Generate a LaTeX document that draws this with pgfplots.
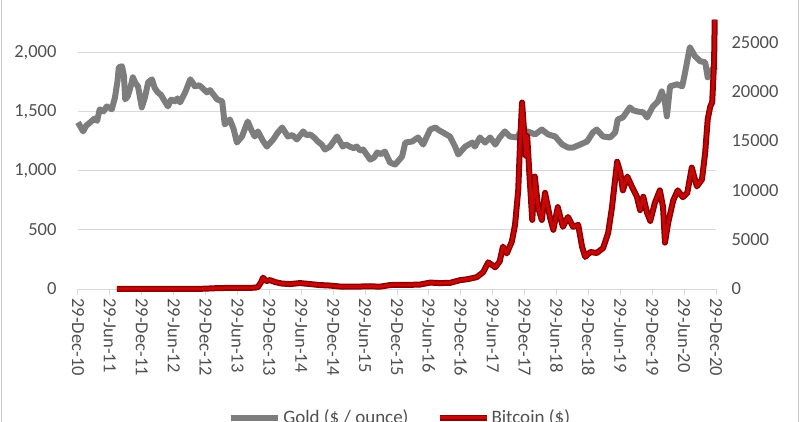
\documentclass[border=0pt]{standalone}
\usepackage{pgfplots}
\pgfplotsset{compat=1.18}
\usepackage{pgfplotstable}
\usepackage{fontspec}
\setmainfont{Carlito}
\definecolor{goldgray}{RGB}{125,125,125}
\definecolor{btcred}{RGB}{200,8,8}
\definecolor{btcdark}{RGB}{140,0,0}
\definecolor{gridgray}{RGB}{217,217,217}
\definecolor{labelgray}{RGB}{80,80,80}
\definecolor{framegray}{RGB}{200,200,200}

\pgfplotstableread{
t v
0.00 1407
0.04 1370
0.08 1331
0.13 1380
0.19 1407
0.26 1440
0.30 1420
0.34 1517
0.40 1500
0.45 1542
0.50 1530
0.53 1517
0.58 1619
0.62 1760
0.64 1873
0.69 1881
0.72 1800
0.74 1602
0.78 1627
0.82 1700
0.86 1788
0.90 1740
0.94 1712
1.00 1534
1.05 1620
1.10 1746
1.16 1771
1.20 1700
1.25 1661
1.30 1640
1.36 1585
1.41 1542
1.46 1600
1.52 1585
1.56 1610
1.60 1576
1.68 1661
1.76 1771
1.80 1740
1.83 1712
1.90 1720
1.94 1703
2.02 1661
2.07 1680
2.12 1644
2.18 1602
2.26 1585
2.30 1390
2.38 1432
2.44 1350
2.49 1237
2.57 1288
2.66 1415
2.72 1340
2.77 1288
2.82 1331
2.90 1250
2.96 1203
3.06 1263
3.13 1320
3.20 1364
3.29 1288
3.36 1300
3.43 1263
3.53 1331
3.58 1300
3.64 1305
3.70 1280
3.76 1246
3.82 1220
3.87 1178
3.95 1203
4.06 1288
4.15 1203
4.20 1220
4.26 1203
4.32 1190
4.37 1203
4.42 1170
4.47 1178
4.58 1093
4.64 1110
4.69 1153
4.75 1140
4.81 1161
4.89 1068
4.97 1051
5.08 1119
5.13 1237
5.24 1246
5.33 1280
5.41 1220
5.47 1290
5.52 1347
5.60 1364
5.66 1340
5.72 1322
5.83 1288
5.91 1203
5.96 1136
6.07 1203
6.18 1237
6.22 1203
6.30 1280
6.38 1237
6.46 1280
6.54 1220
6.61 1280
6.69 1331
6.77 1288
6.88 1280
6.93 1322
7.04 1331
7.10 1320
7.16 1305
7.27 1347
7.37 1305
7.48 1288
7.59 1220
7.68 1195
7.76 1195
7.87 1220
7.98 1246
8.07 1322
8.13 1347
8.23 1288
8.34 1280
8.42 1322
8.46 1432
8.54 1449
8.65 1534
8.70 1510
8.76 1500
8.86 1492
8.92 1449
9.01 1542
9.09 1585
9.15 1669
9.20 1576
9.23 1458
9.28 1712
9.39 1729
9.47 1712
9.51 1814
9.59 2042
9.67 1966
9.75 1924
9.83 1915
9.87 1788
9.94 1856
10.00 1880
}\golddata

\pgfplotstableread{
t v
0.61 15
1.13 10
1.91 13
2.23 100
2.54 110
2.77 130
2.82 200
2.87 700
2.90 1150
2.95 800
3.01 900
3.09 700
3.20 550
3.32 500
3.48 600
3.64 500
3.79 400
3.95 350
4.11 250
4.26 250
4.42 250
4.58 280
4.73 230
4.89 400
5.02 430
5.20 420
5.36 450
5.52 650
5.67 600
5.83 620
5.99 900
6.11 1000
6.25 1200
6.35 1700
6.43 2700
6.54 2200
6.61 2800
6.66 4300
6.72 3600
6.80 4800
6.85 6500
6.90 10000
6.93 15000
6.96 18900
6.99 16200
7.02 13500
7.04 15500
7.05 14500
7.08 11100
7.12 7000
7.16 11400
7.21 8300
7.27 7000
7.32 9750
7.40 7200
7.45 6000
7.52 8300
7.60 6300
7.68 7300
7.76 6300
7.84 6500
7.90 4300
7.95 3250
8.03 3750
8.13 3650
8.23 4150
8.31 5700
8.37 8300
8.45 12900
8.50 11800
8.54 10000
8.61 11400
8.68 10400
8.76 9350
8.81 8000
8.86 9350
8.92 7700
8.97 6900
9.04 8700
9.12 10000
9.17 8300
9.20 4700
9.25 6700
9.33 9000
9.40 10000
9.48 9300
9.55 9750
9.62 12300
9.70 10400
9.78 11100
9.83 13800
9.87 17200
9.91 18500
9.94 18900
9.97 23000
9.98 27300
}\btcdata

\begin{document}
\begin{tikzpicture}[x=1pt,y=1pt]
\path[use as bounding box] (-78,-132) rectangle (722,289);
\clip (-78,-132) rectangle (722,289);
\draw[framegray, line width=1pt] (-76.5,-200) rectangle (720.5,400);
\pgfplotsset{
  common/.style={
    at={(0,0)}, anchor=south west,
    scale only axis, width=638pt, height=296pt,
    xmin=0, xmax=10, ymin=0,
    clip=false,
    scaled y ticks=false,
    tick label style={font=\fontsize{18.5}{20}\selectfont, text=labelgray},
    /pgf/number format/assume math mode=true,
  }
}
\begin{axis}[common,
  ymax=2500,
  axis x line*=bottom, axis y line*=left,
  y axis line style={draw=none},
  x axis line style={draw=gridgray, line width=1pt, -},
  xtick={0,0.5,...,10},
  xticklabels={29-Dec-10,29-Jun-11,29-Dec-11,29-Jun-12,29-Dec-12,29-Jun-13,29-Dec-13,29-Jun-14,29-Dec-14,29-Jun-15,29-Dec-15,29-Jun-16,29-Dec-16,29-Jun-17,29-Dec-17,29-Jun-18,29-Dec-18,29-Jun-19,29-Dec-19,29-Jun-20,29-Dec-20},
  x tick label style={rotate=-90, anchor=west},
  xtick style={draw=gridgray, line width=1pt},
  tick align=outside, major tick length=6pt,
  ytick={0,500,1000,1500,2000,2500},
  ytick style={draw=none},
  yticklabel style={xshift=-12pt},
  /pgf/number format/1000 sep={,},
  ymajorgrids, grid style={gridgray, line width=1pt},
]
\addplot[goldgray, line width=6pt, line join=round] table[x=t,y=v] {\golddata};
\end{axis}
\begin{axis}[common,
  ymax=30000,
  axis y line*=right, axis x line=none,
  y axis line style={draw=none},
  ytick={0,5000,10000,15000,20000,25000,30000},
  ytick style={draw=none},
  yticklabel style={xshift=12pt},
  /pgf/number format/1000 sep={},
  legend style={at={(0.505,-0.435)}, anchor=center, draw=none, fill=none,
    font=\fontsize{19}{22}\selectfont, text=labelgray,
    /tikz/every even column/.append style={column sep=26pt}},
  legend columns=2,
  legend image code/.code={\draw[#1] (0pt,0pt) -- (47pt,0pt);},
]
\addlegendimage{goldgray, line width=6pt}
\addlegendentry{Gold (\$ / ounce)}
\addplot[btcred, line width=3pt, line join=round,
  preaction={draw=btcdark, line width=6pt, line join=round}] table[x=t,y=v] {\btcdata};
\addlegendentry{Bitcoin (\$)}
\end{axis}
\end{tikzpicture}
\end{document}
